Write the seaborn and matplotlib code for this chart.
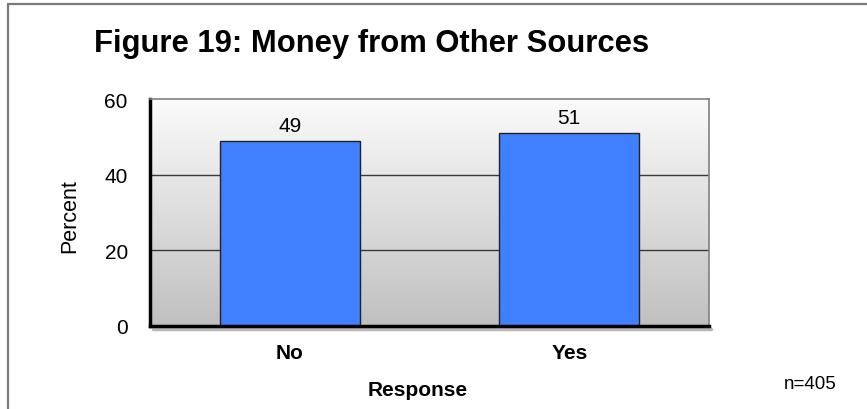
import numpy as np
import pandas as pd
import matplotlib
matplotlib.use("Agg")
import matplotlib.pyplot as plt
from matplotlib.lines import Line2D
import seaborn as sns

# Survey result: money received from other sources
responses = ["No", "Yes"]
percents = [49, 51]
y_ticks = [0, 20, 40, 60]
title_text = "Figure 19: Money from Other Sources"
x_title = "Response"
y_title = "Percent"
sample_note = "n=405"

sns.set_style("white")
plt.rcParams["font.family"] = ["Liberation Sans", "DejaVu Sans"]
plt.rcParams["text.color"] = "black"
plt.rcParams["xtick.color"] = "black"
plt.rcParams["ytick.color"] = "black"

W, H, DPI = 867, 410, 100
fig = plt.figure(figsize=(W / DPI, H / DPI), dpi=DPI)
fig.patch.set_facecolor("white")

# plot area in pixel terms
L, T, R, B = 150, 100, 709, 327
ax = fig.add_axes([L / W, 1 - B / H, (R - L) / W, (B - T) / H])

df = pd.DataFrame({"Response": responses, "Percent": percents})

# vertical gray gradient behind the bars: light at top, darker at the floor
grad = np.linspace(0, 1, 256).reshape(-1, 1)
cmap = matplotlib.colors.LinearSegmentedColormap.from_list("bg", ["#FBFBFB", "#C0C0C0"])
ax.imshow(grad, cmap=cmap, aspect="auto", extent=[-0.5, 1.5, 0, 60],
          zorder=0, origin="upper")

sns.barplot(data=df, x="Response", y="Percent", color="#4080FF", width=0.5,
            saturation=1, edgecolor="#222222", linewidth=1.0, ax=ax, zorder=3)

ax.set_xlim(-0.5, 1.5)
ax.set_ylim(0, 60)
ax.set_yticks(y_ticks)
for yv in y_ticks[1:-1]:
    ax.axhline(yv, color="#3a3a3a", linewidth=1.0, zorder=1)

for cont in ax.containers:
    ax.bar_label(cont, labels=[str(v) for v in percents], padding=4,
                 fontsize=15, color="black")

ax.set_xlabel("")
ax.set_ylabel("")
ax.tick_params(axis="y", length=0, pad=16, labelsize=15, labelcolor="black")
ax.tick_params(axis="x", length=0, pad=12, labelsize=15, labelcolor="black")
for lbl in ax.get_xticklabels():
    lbl.set_fontweight("bold")

ax.spines["left"].set_color("black")
ax.spines["left"].set_linewidth(2.5)
ax.spines["bottom"].set_color("black")
ax.spines["bottom"].set_linewidth(2.5)
ax.spines["top"].set_color("#808080")
ax.spines["top"].set_linewidth(1.2)
ax.spines["right"].set_color("#808080")
ax.spines["right"].set_linewidth(1.2)
for s in ax.spines.values():
    s.set_zorder(5)

# soft shadow below the plot floor
fig.add_artist(Line2D([(L + 3) / W, (R + 2) / W], [1 - 330 / H, 1 - 330 / H],
                      color="#b8b8b8", linewidth=2.5, zorder=0))

# axis titles and notes
fig.text(94 / W, 1 - 52 / H, title_text, fontsize=22.3, fontweight="bold",
         ha="left", va="baseline", color="black")
fig.text(70 / W, 1 - 216 / H, y_title, fontsize=15.5, rotation=90,
         ha="center", va="center", color="black")
fig.text(418 / W, 1 - 396 / H, x_title, fontsize=15, fontweight="bold",
         ha="center", va="baseline", color="black")
fig.text(810 / W, 1 - 389 / H, sample_note, fontsize=13.5,
         ha="center", va="baseline", color="black")

# frame edges at top and left
fig.add_artist(Line2D([7.5 / W, 1], [1 - 5 / H, 1 - 5 / H], color="#7a7a7a",
                      linewidth=1.6))
fig.add_artist(Line2D([7.5 / W, 7.5 / W], [0, 1 - 5 / H], color="#7a7a7a",
                      linewidth=1.6))

fig.savefig("out.png", dpi=DPI)
